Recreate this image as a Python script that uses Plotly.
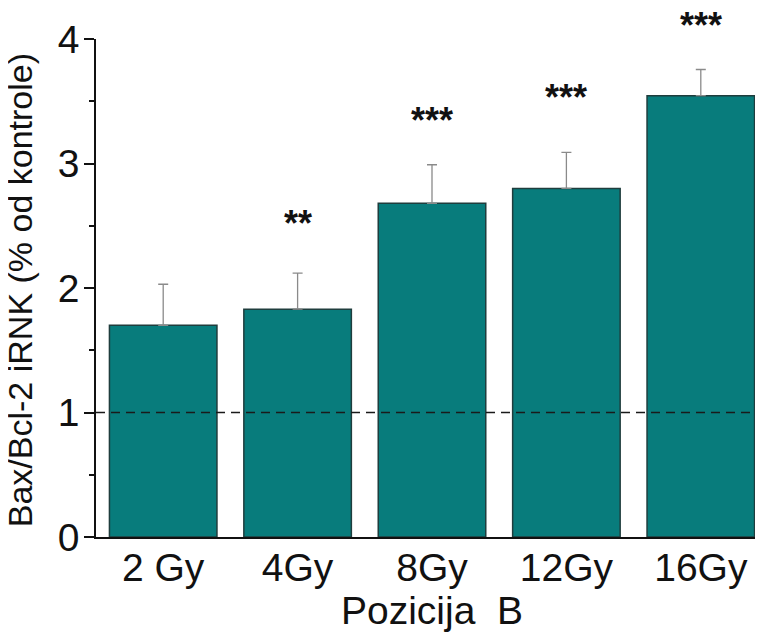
import plotly.graph_objects as go

categories = ["2 Gy", "4Gy", "8Gy", "12Gy", "16Gy"]
values = [1.70, 1.83, 2.68, 2.80, 3.545]
errors = [0.33, 0.29, 0.31, 0.29, 0.21]
stars = ["", "**", "***", "***", "***"]
star_y = [None, 2.52, 3.345, 3.53, 4.11]

FONT = "Liberation Sans, Arial, sans-serif"
BAR = "#087c7c"
Y_MAX = 4
PX_PER_UNIT = (634 - 105 - 31) / Y_MAX

fig = go.Figure()
fig.add_trace(go.Bar(
    x=categories, y=values, width=0.8,
    marker=dict(color=BAR, line=dict(color="#1f3d3d", width=1.5)),
    error_y=dict(type="data", array=errors, arrayminus=[0]*5, symmetric=False,
                 color="#8a8a8a", thickness=1.3, width=5),
))

fig.add_shape(type="line", xref="paper", yref="y", x0=0, x1=1, y0=1, y1=1,
              line=dict(color="#1a1a1a", width=1.6, dash="9px,6px"))

for c, s, y in zip(categories, stars, star_y):
    if s:
        ya = min(y, Y_MAX)
        fig.add_annotation(x=c, y=ya, yshift=(y - ya) * PX_PER_UNIT, text="<b>" + s + "</b>",
                           showarrow=False, xref="x", yref="y",
                           font=dict(family=FONT, size=36, color="#111111"))

# y-axis title as rotated annotation (placed left of the tick labels)
fig.add_annotation(text="Bax/Bcl-2 iRNK (% od kontrole)", textangle=-90,
                   xref="paper", yref="paper", x=-0.112, y=0.495,
                   xanchor="center", yanchor="middle", showarrow=False,
                   font=dict(family=FONT, size=34, color="#111111"))

fig.update_layout(
    width=763, height=634,
    margin=dict(l=88, r=3, t=31, b=105),
    paper_bgcolor="white", plot_bgcolor="white",
    showlegend=False,
    bargap=0.2,
    xaxis=dict(
        type="category", range=[-0.5, 4.5],
        showline=True, linecolor="#111111", linewidth=1.5,
        ticks="", ticklabelstandoff=-5,
        tickfont=dict(family=FONT, size=39, color="#111111"),
        title=dict(text="Pozicija\u00a0\u00a0B", font=dict(family=FONT, size=39, color="#111111"), standoff=2),
    ),
    yaxis=dict(
        range=[0, Y_MAX], dtick=1, tick0=0,
        showline=True, linecolor="#111111", linewidth=1.5,
        showgrid=False, zeroline=False,
        ticks="outside", ticklen=10, tickwidth=1.5, tickcolor="#111111",
        ticklabelstandoff=-3,
        minor=dict(dtick=0.5, ticks="outside", ticklen=5, tickwidth=1.5, tickcolor="#111111", showgrid=False),
        tickfont=dict(family=FONT, size=39, color="#111111"),
    ),
)
fig.update_traces(cliponaxis=False)

fig.write_html("out.html")
